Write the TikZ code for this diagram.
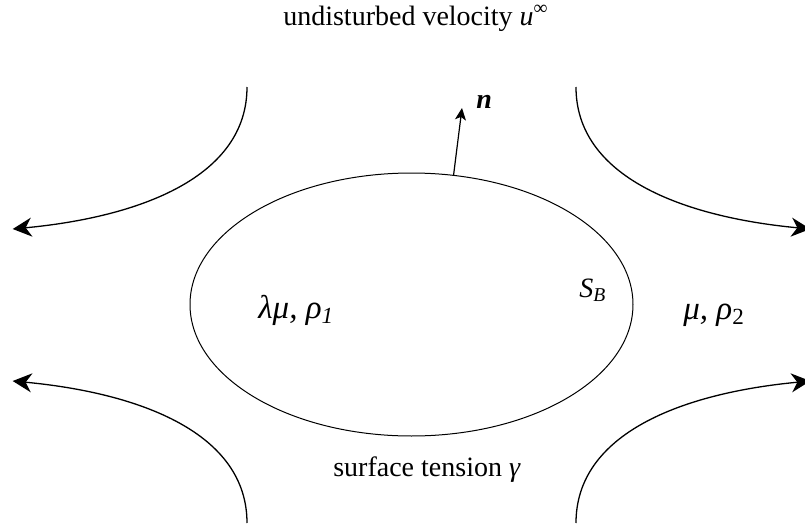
\documentclass[tikz,border=0pt]{standalone}
\usepackage{fontspec}
\setmainfont{Liberation Serif}
\usetikzlibrary{arrows.meta,shapes.geometric}

\begin{document}
\begin{tikzpicture}[x=0.5pt,y=-0.5pt,
  flow/.style={line width=0.65pt,-{Stealth[length=9.5pt,width=9.5pt,inset=3pt]}},
  normal/.style={line width=0.6pt,-{Stealth[length=6pt,width=5.5pt,inset=1.5pt]}},
  lbl/.style={anchor=base west,inner sep=0pt,font=\fontsize{14}{17}\selectfont},
  greek/.style={lbl,font=\fontsize{16.5}{19}\selectfont}]
\useasboundingbox (0,0) rectangle (805,525);
\node[ellipse,draw,line width=0.5pt,minimum width=221.5pt,minimum height=131.5pt,inner sep=0pt] (bubble) at (411.5,304.5) {};
\coordinate (tlstart) at (247,87);
\coordinate (tlend) at (12.7,229);
\coordinate (trstart) at (576,87);
\coordinate (trend) at (810.3,229);
\coordinate (blstart) at (247,523);
\coordinate (blend) at (12.7,381);
\coordinate (brstart) at (576,523);
\coordinate (brend) at (810.3,381);
\coordinate (ntip) at (462,108);
\draw[flow] (tlstart) .. controls (247,177) and (140,217) .. (tlend);
\draw[flow] (trstart) .. controls (576,177) and (683,217) .. (trend);
\draw[flow] (blstart) .. controls (247,433) and (140,393) .. (blend);
\draw[flow] (brstart) .. controls (576,433) and (683,393) .. (brend);
\draw[normal] (bubble.72) -- (ntip);
\node[lbl] (nlab) at (476,108) {\textbf{\textit{n}}};
\node[lbl,anchor=base] (velocity) at (416,25) {undisturbed velocity \textit{u}\textsuperscript{∞}};
\node[lbl,anchor=base] (tension) at (427,476) {surface tension \textit{γ}};
\node[greek] (inner) at (258,318) {\textit{λμ, ρ\textsubscript{1}}};
\node[lbl] (surf) at (579,297) {\textit{S\textsubscript{B}}};
\node[greek] (outer) at (683,319) {\textit{μ, ρ}\textsubscript{2}};
\end{tikzpicture}
\end{document}
